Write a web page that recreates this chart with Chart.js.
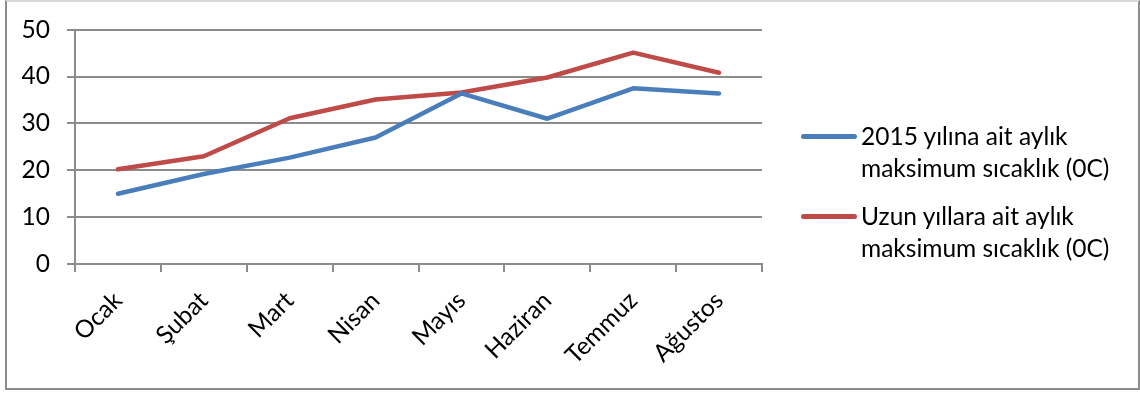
<!DOCTYPE html>
<html lang="tr">
<head>
<meta charset="utf-8">
<title>Aylık maksimum sıcaklık</title>
<script src="https://cdn.jsdelivr.net/npm/chart.js@4.4.1/dist/chart.umd.min.js"></script>
<style>
  html, body { margin: 0; padding: 0; background: #fff; }
  #wrap { position: relative; width: 1140px; height: 394px; overflow: hidden; }
  #frame {
    position: absolute; left: 5px; top: 0; width: 1131px; height: 386px;
    border: 2px solid #8c8c8c; border-top-color: #d9d9d9; box-sizing: content-box;
    pointer-events: none;
  }
  canvas { position: absolute; left: 0; top: -2px; }
  #legend {
    position: absolute; left: 801px; top: 0; font-family: Lato, sans-serif;
    font-size: 24.5px; line-height: 32px; color: #000;
  }
  .item { position: absolute; left: 0; white-space: nowrap; }
  .swatch { position: absolute; left: 0; width: 56px; height: 5px; border-radius: 3px; }
  .text { position: absolute; left: 60px; }
</style>
</head>
<body>
<div id="wrap">
  <canvas id="c" width="1140" height="394"></canvas>
  <div id="frame"></div>
  <div id="legend"></div>
</div>
<script>
// Month names on the category axis
const months = ['Ocak', 'Şubat', 'Mart', 'Nisan', 'Mayıs', 'Haziran', 'Temmuz', 'Ağustos'];

// Monthly maximum temperature, 2015
const temps2015 = [15, 19.2, 22.7, 27, 36.4, 31, 37.5, 36.4];

// Long-term monthly maximum temperature
const tempsLongTerm = [20.2, 23, 31.1, 35.1, 36.6, 39.8, 45.1, 40.8];

// Series names (shown in the legend, split over two lines)
const seriesNames = [
  ['2015 yılına ait aylık', 'maksimum sıcaklık (0C)'],
  ['Uzun yıllara ait aylık', 'maksimum sıcaklık (0C)']
];
const seriesColors = ['#4a7ebb', '#be4b48'];

// Y axis range and step
const yMin = 0, yMax = 50, yStep = 10;

const font = { family: 'Lato, sans-serif', size: 24.5 };
const gridGray = '#8c8c8c';

const chart = new Chart(document.getElementById('c'), {
  type: 'line',
  data: {
    labels: months,
    datasets: [
      { label: seriesNames[0].join(' '), data: temps2015 },
      { label: seriesNames[1].join(' '), data: tempsLongTerm }
    ].map((d, i) => Object.assign(d, {
      borderColor: seriesColors[i],
      backgroundColor: seriesColors[i],
      borderWidth: 4.5,
      pointRadius: 0,
      tension: 0,
      borderCapStyle: 'round',
      borderJoinStyle: 'round'
    }))
  },
  options: {
    responsive: false,
    animation: false,
    layout: { padding: { left: 0, top: 12, right: 378, bottom: 0 } },
    plugins: { legend: { display: false }, tooltip: { enabled: false } },
    scales: {
      x: {
        offset: true,
        grid: { offset: true, drawOnChartArea: false, color: gridGray, lineWidth: 2, tickLength: 8 },
        border: { color: gridGray, width: 2 },
        ticks: { font, color: '#000', maxRotation: 45, minRotation: 45, padding: 14, autoSkip: false },
        afterFit: s => { s.height = 128; }
      },
      y: {
        min: yMin, max: yMax,
        grid: { color: gridGray, lineWidth: 2, tickLength: 8 },
        border: { color: gridGray, width: 2 },
        ticks: { font, color: '#000', stepSize: yStep, padding: 17 },
        afterFit: s => { s.width = 75; }
      }
    }
  }
});

// Legend built from the series names and colours
const legend = document.getElementById('legend');
const legendTops = [120, 200];
seriesNames.forEach((lines, i) => {
  const item = document.createElement('div');
  item.className = 'item';
  item.style.top = legendTops[i] + 'px';
  const sw = document.createElement('div');
  sw.className = 'swatch';
  sw.style.background = seriesColors[i];
  sw.style.top = '14px';
  const tx = document.createElement('div');
  tx.className = 'text';
  tx.innerHTML = lines.join('<br>');
  item.appendChild(sw);
  item.appendChild(tx);
  legend.appendChild(item);
});
</script>
</body>
</html>
